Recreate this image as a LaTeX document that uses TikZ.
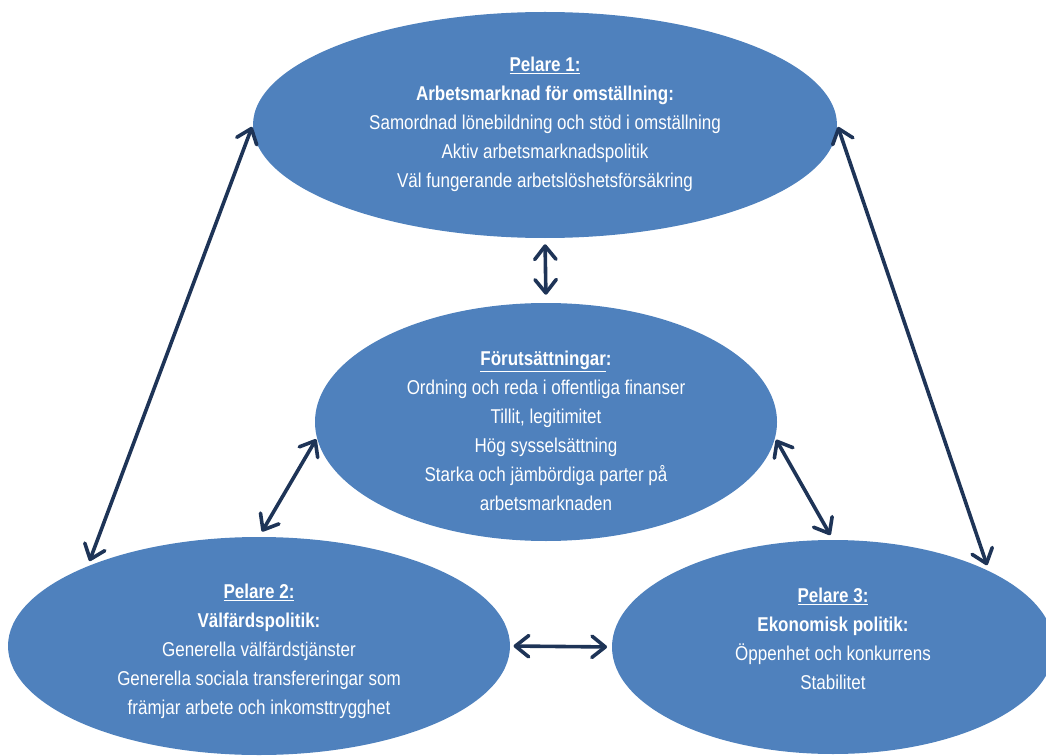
\documentclass[tikz,border=0pt]{standalone}
\usepackage{fontspec}
\setmainfont[FakeStretch=0.85]{Liberation Sans}
\usetikzlibrary{shapes.geometric,arrows.meta}
\definecolor{ellfill}{HTML}{4F81BD}
\definecolor{arrcol}{HTML}{1E3457}
\begin{document}
\begin{tikzpicture}[x=0.75pt,y=-0.75pt,
  bubble/.style={ellipse, fill=ellfill, draw=none, inner sep=0pt},
  txt/.style={text=white, align=center, inner sep=0pt, font=\fontsize{15}{21.75}\selectfont},
  link/.style={draw=arrcol, line width=2.7pt, line cap=round,
    >={Straight Barb[length=10pt,width=16pt,round]}, <->}]
\useasboundingbox (0,0) rectangle (1046,756);
\clip (0,0) rectangle (1046,756);

\node[bubble, minimum width=438pt, minimum height=169.5pt] (p1) at (545,125) {};
\node[bubble, minimum width=346.5pt, minimum height=178.5pt] (fo) at (546,422) {};
\node[bubble, minimum width=376.5pt, minimum height=163.5pt] (p2) at (259,646) {};
\node[bubble, minimum width=331.5pt, minimum height=160.5pt] (p3) at (833,647) {};

\node[txt] (t1) at (545,124) {\underline{\textbf{Pelare 1:}}\\
  \textbf{Arbetsmarknad för omställning:}\\
  Samordnad lönebildning och stöd i omställning\\
  Aktiv arbetsmarknadspolitik\\
  Väl fungerande arbetslöshetsförsäkring};
\node[txt] (tf) at (546,431) {\underline{\textbf{Förutsättningar}}\textbf{:}\\
  Ordning och reda i offentliga finanser\\
  Tillit, legitimitet\\
  Hög sysselsättning\\
  Starka och jämbördiga parter på\\
  arbetsmarknaden};
\node[txt] (t2) at (259,651) {\underline{\textbf{Pelare 2:}}\\
  \textbf{Välfärdspolitik:}\\
  Generella välfärdstjänster\\
  Generella sociala transfereringar som\\
  främjar arbete och inkomsttrygghet};
\node[txt] (t3) at (833,639) {\underline{\textbf{Pelare 3:}}\\
  \textbf{Ekonomisk politik:}\\
  Öppenhet och konkurrens\\
  Stabilitet};

\draw[link, shorten <=4.5pt, shorten >=6pt] (p1.south) -- (fo.north);
\draw[link, shorten <=1.5pt, shorten >=4pt] (p1.west) -- (p2.155.5);
\draw[link, shorten <=1.5pt, shorten >=4.5pt] (p1.east) -- (p3.26.7);
\draw[link, shorten <=1pt, shorten >=4.5pt] (fo.184) -- (p2.north);
\draw[link, shorten <=1.5pt, shorten >=4pt] (fo.356) -- (p3.north);
\draw[link, shorten <=2.5pt, shorten >=3.5pt] (p2.east) -- (p3.west);
\end{tikzpicture}
\end{document}
